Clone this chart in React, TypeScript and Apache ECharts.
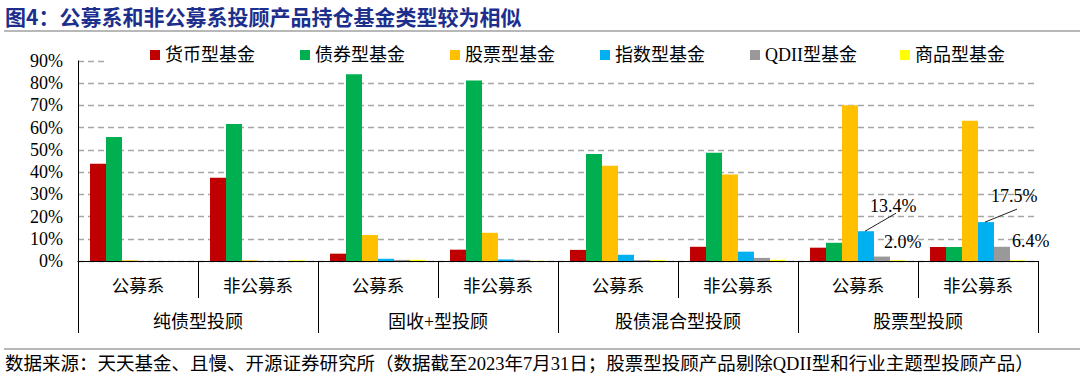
import React, { useEffect, useRef } from "react";
import * as echarts from "echarts";

const categories = ["公募系", "非公募系", "公募系", "非公募系", "公募系", "非公募系", "公募系", "非公募系"];
const groups = ["纯债型投顾", "固收+型投顾", "股债混合型投顾", "股票型投顾"];
const seriesNames = ["货币型基金", "债券型基金", "股票型基金", "指数型基金", "QDII型基金", "商品型基金"];
const colors = ["#C00000", "#00B050", "#FFC000", "#00B0F0", "#999999", "#FFFF00"];

const moneyFund = [43.8, 37.5, 3.3, 5.1, 5.0, 6.4, 6.0, 6.3];
const bondFund = [55.8, 61.6, 84.0, 81.2, 48.1, 48.7, 8.2, 6.3];
const stockFund = [0.3, 0.3, 11.7, 12.7, 42.9, 38.9, 70.1, 63.1];
const indexFund = [0, 0, 1.0, 0.7, 2.8, 4.2, 13.4, 17.5];
const qdiiFund = [0, 0, 0.5, 0.5, 0.4, 1.4, 2.0, 6.4];
const commodityFund = [0, 0.3, 0.5, 0.1, 0.4, 0.5, 0.3, 0.3];
const labelledIndices = [6, 7];

const yTicks = { min: 0, max: 90, interval: 10 };

const SERIF = "'Liberation Serif', 'Times New Roman', 'Noto Sans CJK SC', serif";
const CJK = "'Liberation Serif', 'Noto Sans CJK SC', serif";
const BAR_CATEGORY_GAP = 0.2;

export default function App() {
  const ref = useRef<HTMLDivElement>(null);
  useEffect(() => {
    if (!ref.current) return;
    const chart = echarts.init(ref.current, null, { renderer: "svg" });
    const all = [moneyFund, bondFund, stockFund, indexFund, qdiiFund, commodityFund];

    const series = all.map((arr, si) => {
      const withLabels = si === 3 || si === 4;
      return {
        name: seriesNames[si],
        type: "bar",
        barGap: "0%",
        barCategoryGap: BAR_CATEGORY_GAP * 100 + "%",
        itemStyle: { color: colors[si] },
        data: arr.map((v, i) =>
          withLabels && labelledIndices.includes(i) ? { value: v, label: { show: true } } : v
        ),
        label: {
          show: false,
          position: "top",
          fontFamily: SERIF,
          fontSize: 18,
          color: "#000",
          formatter: (p: any) => Number(p.value).toFixed(1) + "%",
        },
        labelLayout: withLabels
          ? (p: any) => {
              const r = p.rect;
              const top = Math.min(r.y, r.y + r.height);
              const right = r.x + r.width;
              if (si === 3) {
                if (p.dataIndex === 6) return { x: right - 4, y: top - 25, align: "left", verticalAlign: "middle" };
                return { x: right - 3, y: top - 26, align: "left", verticalAlign: "middle" };
              }
              if (p.dataIndex === 6) return { x: r.x + 10, y: top - 15, align: "left", verticalAlign: "middle" };
              return { x: right + 2, y: top - 6, align: "left", verticalAlign: "middle" };
            }
          : undefined,
      };
    });

    const legends = seriesNames.map((n, i) => ({
      data: [n],
      left: 145 + 150 * i,
      top: 43,
      padding: [3, 5, 12, 5],
      itemWidth: 10,
      itemHeight: 10,
      icon: "rect",
      textStyle: { fontFamily: CJK, fontSize: 18, color: "#000" },
    }));

    const baseGraphics: any[] = [
      {
        type: "rect",
        z: 1,
        shape: { x: 104, y: 50, width: 936, height: 18 },
        style: { fill: "#fff" },
      },
      {
        type: "text",
        left: 5,
        top: 5,
        style: {
          text: "图4：公募系和非公募系投顾产品持仓基金类型较为相似",
          fontFamily: "'Noto Sans CJK SC', sans-serif",
          fontWeight: "bold",
          fontSize: 21,
          fill: "#1C2F8C",
        },
      },
      {
        type: "line",
        shape: { x1: 4, y1: 31, x2: 1080, y2: 31 },
        style: { stroke: "#A0A0A0", lineWidth: 1.5 },
      },
      {
        type: "line",
        shape: { x1: 4, y1: 349, x2: 1080, y2: 349 },
        style: { stroke: "#A0A0A0", lineWidth: 1.5 },
      },
      {
        type: "text",
        left: 5,
        top: 355,
        style: {
          text: "数据来源：天天基金、且慢、开源证券研究所（数据截至2023年7月31日；股票型投顾产品剔除QDII型和行业主题型投顾产品）",
          fontFamily: CJK,
          fontSize: 18.5,
          fill: "#000",
        },
      },
    ];

    chart.setOption({
      animation: false,
      color: colors,
      textStyle: { fontFamily: SERIF },
      grid: { left: 78, right: 42, top: 61, bottom: 128, containLabel: false },
      legend: legends,
      xAxis: [
        {
          type: "category",
          data: categories,
          position: "bottom",
          axisLine: { show: true, lineStyle: { color: "#000", width: 1 } },
          axisTick: { show: true, interval: 0, length: 37, lineStyle: { color: "#000" } },
          axisLabel: { interval: 0, margin: 16, fontFamily: CJK, fontSize: 17.5, color: "#000" },
        },
        {
          type: "category",
          data: groups,
          position: "bottom",
          axisLine: { show: false },
          axisTick: { show: true, interval: 0, length: 72, lineStyle: { color: "#000" } },
          axisLabel: { interval: 0, margin: 52, fontFamily: CJK, fontSize: 18, color: "#000" },
        },
      ],
      yAxis: {
        type: "value",
        min: yTicks.min,
        max: yTicks.max,
        interval: yTicks.interval,
        axisLine: { show: true, lineStyle: { color: "#000", width: 1 } },
        axisTick: { show: false },
        axisLabel: { formatter: "{value}%", fontFamily: SERIF, fontSize: 18, color: "#000", margin: 15 },
        splitLine: { show: true, lineStyle: { color: "#A6A6A6", type: [6, 4], width: 1.3 } },
      },
      series,
      graphic: baseGraphics,
    });

    // leader lines for the index-fund labels, positioned through the chart's own scales
    const leaders = labelledIndices.map((i) => {
      const p = chart.convertToPixel({ xAxisIndex: 0, yAxisIndex: 0 }, [i, indexFund[i]]) as number[];
      const pNext = chart.convertToPixel({ xAxisIndex: 0, yAxisIndex: 0 }, [i + 1, indexFund[i]]) as number[];
      const band = Math.abs(pNext[0] - p[0]);
      const bw = (band * (1 - BAR_CATEGORY_GAP)) / seriesNames.length;
      const cx = p[0] + bw / 2;
      const top = p[1];
      const right = p[0] + bw;
      const end = i === 6 ? [right - 4 + 26, top - 25 + 7] : [right - 3 + 26, top - 26 + 13];
      return {
        type: "line",
        z: 5,
        shape: { x1: cx - 1, y1: top, x2: end[0], y2: end[1] },
        style: { stroke: "#222", lineWidth: 1 },
      };
    });
    chart.setOption({ graphic: [...baseGraphics, ...leaders] });

    return () => chart.dispose();
  }, []);
  return <div ref={ref} style={{ width: 1080, height: 389, position: "absolute", left: 0, top: 0 }} />;
}
